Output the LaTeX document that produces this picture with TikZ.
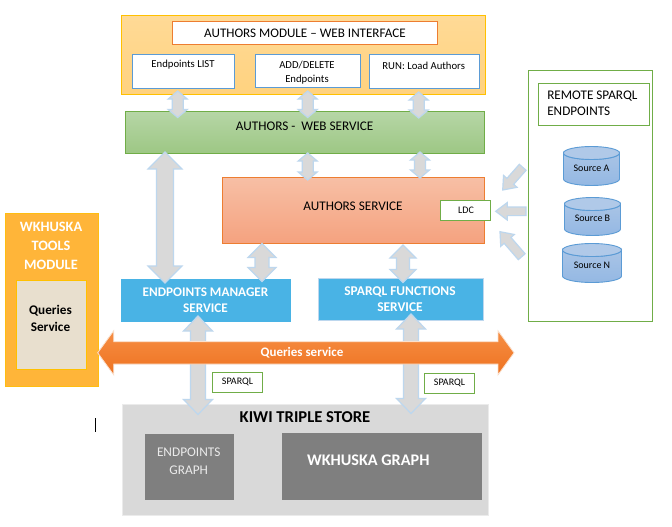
\documentclass[tikz,border=0pt]{standalone}
\usepackage{fontspec}
\setmainfont{Carlito}
\usetikzlibrary{calc}
\definecolor{blockfill}{HTML}{D9D9D9}
\definecolor{blockline}{HTML}{BDD7EE}
\definecolor{greenline}{HTML}{70AD47}
\definecolor{blueline}{HTML}{5B9BD5}
\definecolor{orangeline}{HTML}{ED7D31}
\definecolor{goldline}{HTML}{FFC000}
\definecolor{skyfill}{HTML}{49B3E5}
\definecolor{darkgraph}{HTML}{7F7F7F}
\definecolor{gold1}{HTML}{FFDA96}
\definecolor{gold2}{HTML}{FFD27F}
\definecolor{green1}{HTML}{B6D6A6}
\definecolor{green2}{HTML}{9DC784}
\definecolor{salmon1}{HTML}{F7BFA5}
\definecolor{salmon2}{HTML}{F5A27F}
\definecolor{orange1}{HTML}{F68E44}
\definecolor{orange2}{HTML}{EE7220}
\definecolor{orange3}{HTML}{FBE0CC}
\definecolor{toolsfill}{HTML}{FFB539}
\definecolor{queriesfill}{HTML}{E8DFCE}
\definecolor{cylA}{HTML}{A9C4E6}
\definecolor{cylB}{HTML}{94B8E3}
\definecolor{cylT}{HTML}{B0C9E8}
\tikzset{
  box/.style={rectangle,inner sep=0pt,outer sep=0pt,line width=1pt,anchor=north west},
  lbl/.style={inner sep=0pt,outer sep=0pt,align=center,text=#1},
  lbl/.default=black,
  fs/.style={font=\fontsize{#1}{#1}\selectfont},
  fb/.style={font=\bfseries\fontsize{#1}{#1}\selectfont},
  blockarrow/.style={fill=blockfill,draw=blockline,line width=1.2pt,line join=miter},
  whitebox/.style={box,draw=greenline,fill=white},
  cyl/.style={draw=blueline,line width=.9pt},
}
% \pbox{name}{style}{x1}{y1}{x2}{y2}
\newcommand{\pbox}[6]{%
  \pgfmathsetmacro{\pw}{#5-#3}\pgfmathsetmacro{\ph}{#6-#4}%
  \node[box,#2,minimum width=\pw pt,minimum height=\ph pt] (#1) at (#3,#4) {};}
% \dblarrow{from}{to}{head half}{shaft half}{head length}{style}
\newcommand{\dblarrow}[6]{%
  \path[blockarrow,#6] (#1)
   -- ($(#1)!#5pt!(#2)!#3pt!90:(#2)$) -- ($(#1)!#5pt!(#2)!#4pt!90:(#2)$)
   -- ($(#2)!#5pt!(#1)!#4pt!-90:(#1)$) -- ($(#2)!#5pt!(#1)!#3pt!-90:(#1)$)
   -- (#2)
   -- ($(#2)!#5pt!(#1)!#3pt!90:(#1)$) -- ($(#2)!#5pt!(#1)!#4pt!90:(#1)$)
   -- ($(#1)!#5pt!(#2)!#4pt!-90:(#2)$) -- ($(#1)!#5pt!(#2)!#3pt!-90:(#2)$)
   -- cycle;}
% \sglarrow{tip}{tail}{head half}{shaft half}{head length}
\newcommand{\sglarrow}[5]{%
  \path[blockarrow] (#1)
   -- ($(#1)!#5pt!(#2)!#3pt!90:(#2)$) -- ($(#1)!#5pt!(#2)!#4pt!90:(#2)$)
   -- ($(#2)!#4pt!-90:(#1)$) -- ($(#2)!#4pt!90:(#1)$)
   -- ($(#1)!#5pt!(#2)!#4pt!-90:(#2)$) -- ($(#1)!#5pt!(#2)!#3pt!-90:(#2)$)
   -- cycle;}
% \dbcyl{name}{x1}{y1}{x2}{y2}{text}
\newcommand{\dbcyl}[6]{%
  \pgfmathsetmacro{\rx}{(#4-#2)/2}\pgfmathsetmacro{\cx}{(#4+#2)/2}%
  \path[cyl,top color=cylA,bottom color=cylB]
    (#2,#3+6.5) -- (#2,#5-6.5)
    arc[start angle=180,end angle=360,x radius=\rx pt,y radius=6.5pt]
    -- (#4,#3+6.5)
    arc[start angle=0,end angle=-180,x radius=\rx pt,y radius=6.5pt] -- cycle;
  \path[cyl,fill=cylT] (\cx,#3+6.5) ellipse[x radius=\rx pt,y radius=6.5pt];
  \node[lbl,fs=10] (#1) at (\cx,#5-17.5) {#6};}
\begin{document}
\begin{tikzpicture}[x=1pt,y=-1pt]
\useasboundingbox (0,0) rectangle (672,527);
\fill[white] (0,0) rectangle (672,527);

% Kiwi triple store
\pbox{kiwi}{fill=blockfill,draw=black!8}{122.5}{404.5}{488.5}{515.5}
\node[lbl,fb=16.6] (kiwit) at (305,417.5) {KIWI TRIPLE STORE};
\pbox{epgraph}{fill=darkgraph}{145}{434}{234}{500}
\pbox{wkgraph}{fill=darkgraph}{282}{433}{482}{500}
\node[lbl=black!8,fs=13.3] (epgrapht) at (188.7,461.5) {ENDPOINTS\\[4.7pt]GRAPH};
\node[lbl=white,fb=16.2] (wkgrapht) at (368.3,460) {WKHUSKA GRAPH};

% Top module
\pbox{authmod}{draw=goldline,top color=gold1,bottom color=gold2}{121.5}{15.5}{485.5}{94.5}
\pbox{title}{draw=orangeline,fill=white}{172.5}{21.5}{437.5}{44.5}
\node[lbl,fs=13.1] (titlet) at (305,33) {AUTHORS MODULE – WEB INTERFACE};
\pbox{eplist}{draw=blueline,fill=white}{132.5}{54.5}{234.5}{88.5}
\pbox{adddel}{draw=blueline,fill=white}{255.5}{54.5}{360.5}{87.5}
\pbox{runbox}{draw=blueline,fill=white}{369.5}{54.5}{479.5}{88.5}
\node[lbl,fs=10.7] (eplistt) at (183,64.5) {Endpoints LIST};
\node[lbl,fs=10.7] (adddelt) at (307,72.5) {ADD/DELETE\\[2.8pt]Endpoints};
\node[lbl,fs=10.7] (runboxt) at (423.7,65.5) {RUN: Load Authors};

% Web service
\pbox{websvc}{draw=greenline,top color=green1,bottom color=green2}{125.5}{111.5}{484.5}{153.5}
\node[lbl,fs=13.2] (websvct) at (304.7,126) {AUTHORS -~ WEB SERVICE};

% Authors service
\pbox{authsvc}{draw=orangeline,top color=salmon1,bottom color=salmon2}{222.5}{177.5}{484.5}{243.5}
\node[lbl,fs=13.2] (authsvct) at (353,206) {AUTHORS SERVICE};
\pbox{ldc}{whitebox}{440.5}{200.5}{490.5}{220.5}
\node[lbl,fs=10] (ldct) at (466,210.5) {LDC};

% Services
\pbox{epmgr}{fill=skyfill,draw=skyfill}{121.5}{279.5}{290.5}{321.5}
\node[lbl=white,fb=13.2] (epmgrt) at (205.5,300) {ENDPOINTS MANAGER\\[3pt]SERVICE};
\pbox{sparqlf}{fill=skyfill,draw=blockline}{318.5}{278.5}{483.5}{320.5}
\node[lbl=white,fb=13.4] (sparqlft) at (400,299) {SPARQL FUNCTIONS\\[2.6pt]SERVICE};

% Remote endpoints
\pbox{remote}{whitebox}{528.5}{70.5}{652.5}{321.5}
\pbox{remotet}{whitebox}{538.5}{83.5}{649.5}{125.5}
\node[lbl,fs=13.2,align=left,anchor=west] (remotetx) at (547.3,103.5) {REMOTE SPARQL\\[2.8pt]ENDPOINTS};
\dbcyl{srca}{563.5}{146.5}{619.5}{185.5}{Source A}
\dbcyl{srcb}{564.5}{197.5}{620.5}{235.5}{Source B}
\dbcyl{srcn}{562.5}{243.5}{621.5}{282.5}{Source N}

% Tools module
\pbox{tools}{fill=toolsfill,draw=goldline!70!toolsfill}{5}{213}{98}{386.5}
\node[lbl=white,fb=14.3] (toolst) at (51,245.5) {WKHUSKA\\[4.7pt]TOOLS\\[4.7pt]MODULE};
\pbox{queriesb}{fill=queriesfill,draw=goldline}{16}{280}{86}{369}
\node[lbl,fb=13.2] (queriest) at (50.5,318.5) {Queries\\[3.8pt]Service};

% Vertical arrows
\coordinate (a1t) at (177.7,91); \coordinate (a1b) at (177.7,117.5);
\coordinate (a2t) at (307.7,91); \coordinate (a2b) at (307.7,117.5);
\coordinate (a3t) at (418.7,92); \coordinate (a3b) at (418.7,118);
\coordinate (a4t) at (165,152); \coordinate (a4b) at (165,283);
\coordinate (a5t) at (307.7,153); \coordinate (a5b) at (307.7,180);
\coordinate (a6t) at (420,152); \coordinate (a6b) at (420,178);
\coordinate (a7t) at (262,243.5); \coordinate (a7b) at (262,281.5);
\coordinate (a8t) at (403,245); \coordinate (a8b) at (403,282.5);
\coordinate (a9t) at (198,316); \coordinate (a9b) at (198,414.5);
\coordinate (a10t) at (411,314); \coordinate (a10b) at (411,413.5);
\dblarrow{a1t}{a1b}{9.5}{5.5}{8}{}
\dblarrow{a2t}{a2b}{9.5}{5.5}{8}{}
\dblarrow{a3t}{a3b}{9.5}{5.5}{8}{}
\dblarrow{a4t}{a4b}{17}{8.5}{17}{}
\dblarrow{a5t}{a5b}{9.5}{5.5}{8}{}
\dblarrow{a6t}{a6b}{9.5}{5.5}{8}{}
\dblarrow{a7t}{a7b}{14}{7}{14}{}
\dblarrow{a8t}{a8b}{13}{6.5}{13}{}
\dblarrow{a9t}{a9b}{14.5}{7.5}{15}{}
\dblarrow{a10t}{a10b}{14.5}{7.5}{15}{}

% Arrows out of the remote endpoints
\coordinate (r1tip) at (502.7,190); \coordinate (r1tail) at (522.7,167.3);
\coordinate (r2tip) at (495.7,211.3); \coordinate (r2tail) at (526,211.3);
\coordinate (r3tip) at (500,231.7); \coordinate (r3tail) at (521.7,256.7);
\sglarrow{r1tip}{r1tail}{9}{4.5}{11.5}
\sglarrow{r2tip}{r2tail}{8.7}{4.3}{11.5}
\sglarrow{r3tip}{r3tail}{9}{4.5}{11.5}

% Queries service arrow
\coordinate (qleft) at (97.7,352.8); \coordinate (qright) at (514,352.8);
\dblarrow{qleft}{qright}{22}{11.2}{16}{top color=orange1,bottom color=orange2,draw=orange3,line width=.8pt}
\node[lbl=white,fb=13] (qlabel) at (302,353) {Queries service};

% SPARQL labels
\pbox{sp1}{whitebox}{212.5}{372.5}{262.5}{392.5}
\node[lbl,fs=10] (sp1t) at (237.5,382) {SPARQL};
\pbox{sp2}{whitebox}{424.5}{373.5}{474.5}{393.5}
\node[lbl,fs=10] (sp2t) at (449.5,383) {SPARQL};

% Text cursor
\coordinate (curt) at (95.5,418); \coordinate (curb) at (95.5,431.7);
\draw[black,line width=.8pt] (curt) -- (curb);
\end{tikzpicture}
\end{document}
